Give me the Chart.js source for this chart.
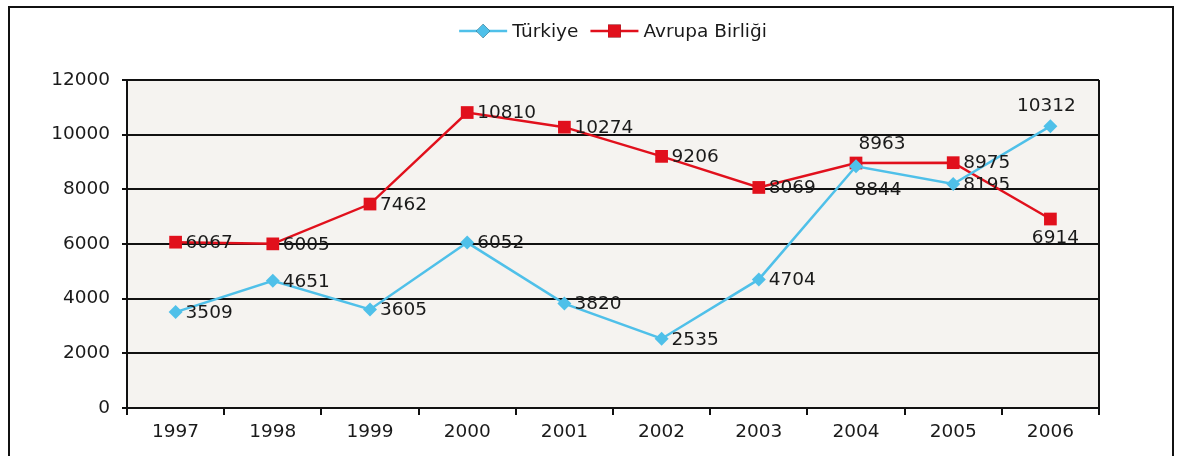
<!DOCTYPE html>
<html>
<head>
<meta charset="utf-8">
<script src="https://cdn.jsdelivr.net/npm/chart.js@4/dist/chart.umd.min.js"></script>
<style>
  html, body { margin: 0; padding: 0; background: #ffffff; }
  #wrap { position: relative; width: 1178px; height: 456px; overflow: hidden; }
  #frame { position: absolute; left: 8px; top: 6px; width: 1166px; height: 470px; border: 2px solid #111; box-sizing: border-box; pointer-events: none; }
  canvas { position: absolute; left: 0; top: 0; }
</style>
</head>
<body>
<div id="wrap">
  <canvas id="c" width="1178" height="456"></canvas>
  <div id="frame"></div>
</div>
<script>
const years = ['1997','1998','1999','2000','2001','2002','2003','2004','2005','2006'];
const turkiye = [3509, 4651, 3605, 6052, 3820, 2535, 4704, 8844, 8195, 10312];
const avrupa = [6067, 6005, 7462, 10810, 10274, 9206, 8069, 8963, 8975, 6914];
const seriesNames = ['Türkiye', 'Avrupa Birliği'];
const yTicks = [0, 2000, 4000, 6000, 8000, 10000, 12000];

// label placement (style, not data)
const turkiyeLabelPos = ['r','r','r','r','r','r','r','b2','r','t'];
const avrupaLabelPos  = ['r','r','r','r','r','r','r','t2','r','b'];

const FONT = '"DejaVu Sans", "Liberation Sans", Arial, sans-serif';
const FS = 18.5;
const BLUE = '#4fc0e9';
const RED = '#e1101c';

const bgPlugin = {
  id: 'bg',
  beforeDraw(chart) {
    const {ctx, chartArea: a} = chart;
    ctx.save();
    ctx.fillStyle = '#f5f3f0';
    ctx.fillRect(a.left, a.top, a.right - a.left, a.bottom - a.top);
    ctx.restore();
  },
  afterDatasetsDraw(chart) {
    const {ctx, chartArea: a} = chart;
    ctx.save();
    ctx.strokeStyle = '#111';
    ctx.lineWidth = 2;
    ctx.beginPath();
    ctx.moveTo(a.right, a.top);
    ctx.lineTo(a.right, a.bottom);
    ctx.stroke();
    ctx.restore();
  }
};

const labelPlugin = {
  id: 'labels',
  afterDatasetsDraw(chart) {
    const {ctx} = chart;
    ctx.save();
    ctx.font = FS + 'px ' + FONT;
    ctx.fillStyle = '#1a1a1a';
    chart.data.datasets.forEach((ds, di) => {
      const meta = chart.getDatasetMeta(di);
      const pos = ds.labelPos;
      meta.data.forEach((pt, i) => {
        const txt = String(ds.data[i]);
        const p = pos[i];
        let x = pt.x, y = pt.y;
        if (p === 'r') { ctx.textAlign = 'left'; ctx.textBaseline = 'middle'; x += 10; y += 1; }
        else if (p === 't') { ctx.textAlign = 'center'; ctx.textBaseline = 'middle'; x -= 4; y -= 20; }
        else if (p === 't2') { ctx.textAlign = 'center'; ctx.textBaseline = 'middle'; x += 26; y -= 19; }
        else if (p === 'b') { ctx.textAlign = 'center'; ctx.textBaseline = 'middle'; x += 5; y += 19; }
        else if (p === 'b2') { ctx.textAlign = 'center'; ctx.textBaseline = 'middle'; x += 22; y += 24; }
        ctx.fillText(txt, x, y);
      });
    });
    ctx.restore();
  }
};

const legendPlugin = {
  id: 'customLegend',
  afterDraw(chart) {
    const {ctx, chartArea: a} = chart;
    ctx.save();
    ctx.font = FS + 'px ' + FONT;
    const lineW = 48, gapText = 5, gapItem = 12;
    const items = chart.data.datasets.map(ds => ({ds, w: ctx.measureText(ds.label).width}));
    const total = items.reduce((s, it) => s + lineW + gapText + it.w, 0) + gapItem * (items.length - 1);
    let x = (a.left + a.right) / 2 - total / 2;
    const y = 31;
    items.forEach(it => {
      const ds = it.ds;
      ctx.strokeStyle = ds.borderColor;
      ctx.lineWidth = 2.5;
      ctx.beginPath();
      ctx.moveTo(x, y); ctx.lineTo(x + lineW, y);
      ctx.stroke();
      Chart.helpers.drawPoint(ctx, {pointStyle: ds.pointStyle, rotation: 0, borderWidth: 0, radius: ds.pointRadius}, x + lineW / 2, y);
      ctx.fillStyle = ds.pointBackgroundColor;
      ctx.strokeStyle = ds.pointBackgroundColor;
      ctx.fill();
      ctx.fillStyle = '#1a1a1a';
      ctx.textAlign = 'left';
      ctx.textBaseline = 'middle';
      ctx.fillText(ds.label, x + lineW + gapText, y + 1);
      x += lineW + gapText + it.w + gapItem;
    });
    ctx.restore();
  }
};

new Chart(document.getElementById('c'), {
  type: 'line',
  data: {
    labels: years,
    datasets: [
      {
        label: seriesNames[0], data: turkiye, labelPos: turkiyeLabelPos,
        borderColor: BLUE, backgroundColor: BLUE, borderWidth: 2.5,
        pointStyle: 'rectRot', pointRadius: 7, pointBackgroundColor: BLUE, pointBorderColor: BLUE, pointBorderWidth: 0,
        tension: 0, fill: false
      },
      {
        label: seriesNames[1], data: avrupa, labelPos: avrupaLabelPos,
        borderColor: RED, backgroundColor: RED, borderWidth: 2.5,
        pointStyle: 'rect', pointRadius: 9, pointBackgroundColor: RED, pointBorderColor: RED, pointBorderWidth: 0,
        tension: 0, fill: false
      }
    ]
  },
  options: {
    responsive: false,
    animation: false,
    devicePixelRatio: 1,
    layout: { padding: { left: 47, right: 79, top: 80, bottom: 0 } },
    plugins: { legend: { display: false }, tooltip: { enabled: false } },
    scales: {
      x: {
        offset: true,
        grid: { offset: true, drawOnChartArea: false, drawTicks: true, tickLength: 7, color: '#111', lineWidth: 2 },
        border: { display: true, color: '#111', width: 2 },
        ticks: { color: '#1a1a1a', font: { family: FONT, size: FS }, padding: 6, maxRotation: 0 },
        afterFit(s) { s.height = 48; }
      },
      y: {
        min: 0, max: 12000,
        afterBuildTicks(s) { s.ticks = yTicks.map(v => ({value: v})); },
        grid: { color: '#111', lineWidth: 2, drawTicks: true, tickLength: 5 },
        border: { display: true, color: '#111', width: 2 },
        ticks: { color: '#1a1a1a', font: { family: FONT, size: FS }, padding: 12, callback: v => String(v) },
        afterFit(s) { s.width = 80; }
      }
    }
  },
  plugins: [bgPlugin, labelPlugin, legendPlugin]
});
</script>
</body>
</html>
